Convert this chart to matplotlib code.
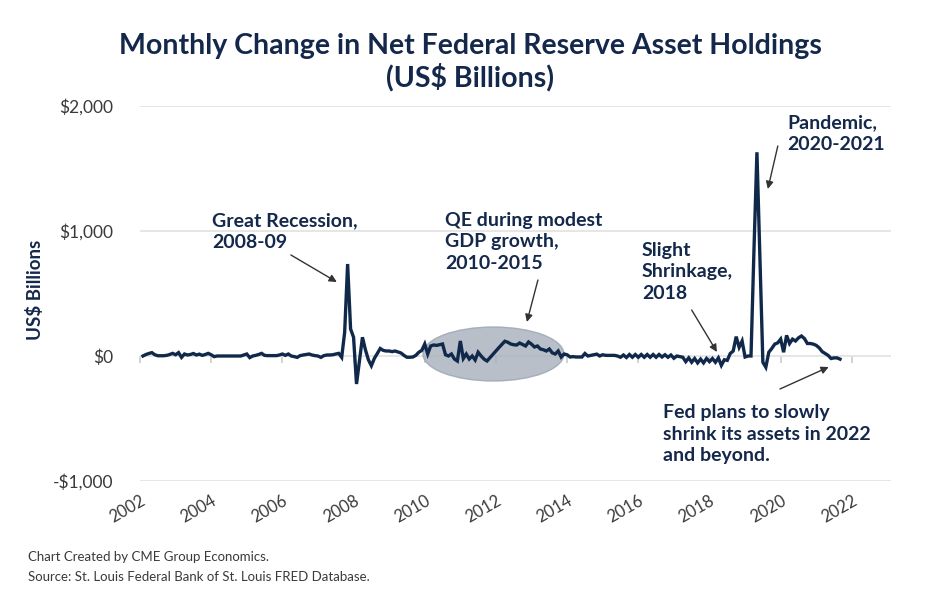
import matplotlib
matplotlib.use("Agg")
import matplotlib.pyplot as plt
from matplotlib.patches import Ellipse
from matplotlib.ticker import FuncFormatter
import numpy as np
import pandas as pd

plt.rcParams['font.family'] = ['Lato', 'DejaVu Sans']

# monthly change in net Fed asset holdings, US$ billions
start_month = "2002-02-01"
changes = [
    0, 12, 20, 27, 10, 2, 2, 2, 5, 12, 21, 10, 27, -11, 16, 8, 12, 20, 8, 15,
    5, 12, 21, 10, -5, 0, 0, 0, 0, 0, 0, 0, 0, 0, 8, 16, -13, 0, 5, 12,
    21, 5, 3, 3, 3, 3, 8, 16, 5, 16, 0, -5, -11, 3, 8, 12, 16, 8, 3, 0,
    -11, 3, 8, 8, 10, 16, 21, -11, 190, 736, 216, 150, -224, -40, 150, 50, -30, -78, -20, 20,
    60, 45, 40, 40, 35, 40, 32, 24, 5, -10, -10, -8, 5, 30, 45, 96, 16, 80, 88, 85,
    90, 96, 10, 0, 16, -24, -40, 120, -20, 16, -24, 0, -32, 30, 0, -25, -40, -13, 13, 40,
    67, 93, 118, 110, 96, 90, 88, 104, 92, 80, 112, 95, 72, 80, 56, 50, 40, 56, 25, 16,
    40, -8, 16, 10, -8, -5, -8, -8, -8, 20, 0, 5, 10, 15, 0, 10, 5, 5, 5, 5,
    0, -10, 8, -12, 12, -10, 12, -10, 12, -10, 12, -10, 12, -10, 12, -8, 10, -10, 8, -18,
    0, -5, -10, -45, -15, -50, -20, -55, -25, -55, -20, -45, -20, -50, -15, -75, -30, -35, 20, 40,
    155, 70, 120, -8, 0, 0, 850, 1630, 800, -50, -90, 30, 60, 95, 105, 135, 30, 165, 100, 135,
    120, 145, 160, 140, 100, 100, 95, 85, 65, 35, 20, 5, -20, -15, -15, -25,
]

dates = pd.date_range(start_month, periods=len(changes), freq="MS")
years = dates.year + (dates.month - 1) / 12

year_ticks = list(range(2002, 2023, 2))
value_ticks = [-1000, 0, 1000, 2000]

navy = "#14284b"
line_col = "#10294a"
grey_txt = "#3a3a3a"
grid_col = "#e2e2e2"

fig = plt.figure(figsize=(9.4, 6), dpi=100)
ax = fig.add_axes([140 / 940, 1 - 481 / 600, (891 - 140) / 940, (481 - 106) / 600])

ax.set_xlim(2002, 2023.1)
ax.set_ylim(-1000, 2000)
ax.set_yticks(value_ticks)
ax.set_xticks(year_ticks)
ax.yaxis.set_major_formatter(FuncFormatter(
    lambda v, _: f"-${abs(v):,.0f}" if v < 0 else f"${v:,.0f}"))
ax.grid(axis="y", color=grid_col, lw=1.2, zorder=0)
ax.set_axisbelow(True)
for s in ax.spines.values():
    s.set_visible(False)
ax.tick_params(axis="y", length=0, pad=19, labelsize=12.5, labelcolor=grey_txt)
ax.tick_params(axis="x", length=0, pad=8, labelsize=12, labelcolor=grey_txt)
for lab in ax.get_xticklabels():
    lab.set_rotation(30)
    lab.set_ha("right")
    lab.set_va("top")
    lab.set_rotation_mode("anchor")

# small tick marks hanging under the zero line
ax.plot(year_ticks, [0] * len(year_ticks), ls="none", marker=3, ms=5,
        mew=1.1, color="#c8c8c8", zorder=0.5, clip_on=False)

# shaded QE period
ax.add_patch(Ellipse((2011.93, 16), 3.96, 432, facecolor="#a6afbc",
                     edgecolor="#9aa4b2", alpha=0.8, lw=1, zorder=1))

ax.plot(years, changes, color=line_col, lw=2.4, zorder=3,
        solid_joinstyle="miter")

ax.set_ylabel("US$ Billions", fontsize=13.5, fontweight="bold", color=navy)
ax.yaxis.set_label_coords(44 / 940, 1 - 290 / 600, transform=fig.transFigure)

fig.text(0.5, 1 - 62 / 600, "Monthly Change in Net Federal Reserve Asset Holdings\n(US$ Billions)",
         ha="center", va="center", fontsize=20.5, fontweight="bold", color=navy,
         linespacing=1.15)

# callouts: (text, text left px, text centre px, arrow tail, arrow head in data units)
notes = [
    ("Great Recession,\n2008-09", 212, 232, (2006.24, 808), (2007.53, 592)),
    ("QE during modest\nGDP growth,\n2010-2015", 445, 242, (2013.18, 608), (2012.87, 272)),
    ("Slight\nShrinkage,\n2018", 642, 272, (2017.50, 368), (2018.21, 32)),
    ("Pandemic,\n2020-2021", 787, 134, (2019.92, 1680), (2019.64, 1336)),
    ("Fed plans to slowly\nshrink its assets in 2022\nand beyond.", 663, 434, (2019.98, -264), (2021.35, -88)),
]
for txt, tx, ty, tail, head in notes:
    fig.text(tx / 940, 1 - ty / 600, txt, ha="left", va="center", fontsize=14,
             fontweight="bold", color=navy, linespacing=1.35)
    ax.annotate("", xy=head, xytext=tail,
                arrowprops=dict(arrowstyle="-|>", color="#333333", lw=1,
                                mutation_scale=11, shrinkA=0, shrinkB=0), zorder=4)

fig.text(28 / 940, 1 - 557 / 600, "Chart Created by CME Group Economics.",
         fontsize=9.5, color=grey_txt, va="center")
fig.text(28 / 940, 1 - 577 / 600, "Source: St. Louis Federal Bank of St. Louis FRED Database.",
         fontsize=9.5, color=grey_txt, va="center")

fig.savefig("out.png", dpi=100)
